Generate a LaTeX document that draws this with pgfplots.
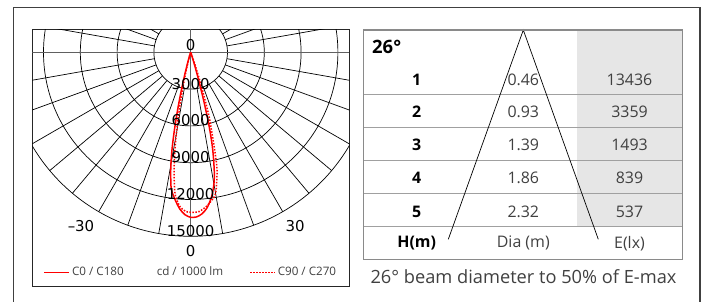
\documentclass[border=0pt]{standalone}
\usepackage{pgfplots}
\pgfplotsset{compat=1.18}
\usepackage{pgfplotstable}
\usepackage{fontspec}
\setmainfont{Open Sans}
\newfontfamily\dejavu{DejaVu Sans}
\definecolor{txt}{HTML}{404040}
\definecolor{tborder}{HTML}{8A8A8A}
\definecolor{rowline}{HTML}{A0A0A0}
\definecolor{colfill}{HTML}{E6E6E6}
\definecolor{axc}{HTML}{606060}

% C180 (negative angles) / C0 (positive angles): angle [deg], intensity [cd/1000 lm]
\pgfplotstableread{
a I
-30 0
-22 30
-20 100
-18 300
-17 550
-16 900
-15 1800
-14 3000
-13 4500
-12 6200
-11 7900
-10 9300
-9 10400
-8 11300
-6 12100
-4 12800
-2 13250
0 13450
2 13430
4 13200
6 12750
8 12000
9 11500
10 10900
11 10100
12 9000
13 7800
14 6200
15 4200
16 2300
17 1000
18 400
20 150
22 50
30 0
}\solidtab

% C270 (negative angles) / C90 (positive angles)
\pgfplotstableread{
a I
-30 0
-20 60
-18 200
-16 600
-14 1500
-13 2400
-12 3600
-11 5100
-10 6700
-9 8300
-8 9700
-7 10900
-6 11800
-4 12600
-2 12950
0 13050
3 13000
6 12600
8 12200
10 11700
12 10300
13 9400
14 7900
15 6500
16 5400
17 3600
18 2200
19 1100
20 500
22 150
30 0
}\dottab

\begin{document}
\begin{tikzpicture}
\path[use as bounding box] (0bp,0bp) rectangle (705bp,302bp);
\draw[black!75, line width=1.2bp] (13.3bp,0bp) -- (13.3bp,294.7bp) -- (700bp,294.7bp) -- (700bp,0bp);

% ---------------- polar diagram ----------------
\begin{axis}[
  at={(32.3bp,16bp)}, anchor=south west,
  scale only axis, width=317bp, height=256.5bp,
  xmin=-12913, xmax=12929, ymin=-19052, ymax=1859,
  xtick=\empty, ytick=\empty,
  axis line style={draw=black!85, line width=1bp},
  clip=true,
  legend columns=3,
  legend style={at={(0.5002,0.0534)}, anchor=center, draw=none, fill=none,
    font=\fontsize{11.7}{13}\selectfont, text=txt,
    /tikz/column 2/.style={column sep=29bp},
    /tikz/column 4/.style={column sep=24bp}},
  legend image code/.code={\draw[#1] (0bp,0bp) -- (25bp,0bp);},
]
% grid circles
\pgfplotsinvokeforeach{36.8,73.6,110.4,147.2,184}{
  \draw[black, line width=0.7bp] (axis cs:0,0) circle[radius=#1bp];
}
\pgfplotsinvokeforeach{10,20,30,40,50,60,70,80,100,110,120,130,140,150,160,170,190,200,210,220,230,240,250,260,280,290,300,310,320,330,340,350}{
  \draw[black, line width=0.7bp] ([shift={(#1:36.8bp)}]axis cs:0,0) -- ([shift={(#1:184bp)}]axis cs:0,0);
}
\draw[axc, line width=1.1bp] (axis cs:-12913,0) -- (axis cs:12929,0);
\draw[axc, line width=1.1bp] (axis cs:0,1859) -- ([shift={(270:184bp)}]axis cs:0,0);

\addplot[red, line width=1.5bp, smooth, tension=0.5] table[
  x expr={\thisrow{I}*sin(\thisrow{a})}, y expr={-\thisrow{I}*cos(\thisrow{a})}] {\solidtab};
\addlegendentry{C0 / C180}
\addlegendimage{empty legend}
\addlegendentry{cd / 1000 lm}
\addplot[red, line width=1.5bp, smooth, tension=0.5, dash pattern=on 1.5bp off 1.5bp] table[
  x expr={\thisrow{I}*sin(\thisrow{a})}, y expr={-\thisrow{I}*cos(\thisrow{a})}] {\dottab};
\addlegendentry{C90 / C270}

\pgfplotsinvokeforeach{3000,6000,9000,12000,15000}{
  \node[font=\dejavu\fontsize{15}{15}\selectfont, anchor=base, inner sep=0pt] at (axis cs:0,-#1) {#1};
}
\node[font=\dejavu\fontsize{15}{15}\selectfont, anchor=base, inner sep=0pt] at (axis cs:0,130) {0};
\node[font=\dejavu\fontsize{15}{15}\selectfont, inner sep=0pt] at (axis cs:-8943,-14160) {–30};
\node[font=\dejavu\fontsize{15}{15}\selectfont, inner sep=0pt] at (axis cs:8503,-14160) {30};
\node[font=\dejavu\fontsize{15}{15}\selectfont, inner sep=0pt] at (axis cs:0,-16174) {0};
\end{axis}

% ---------------- beam table ----------------
\begin{axis}[
  at={(363.3bp,42.7bp)}, anchor=south west,
  scale only axis, width=319bp, height=229.3bp,
  xmin=363.3, xmax=682.3, ymin=30, ymax=259.3, y dir=reverse,
  xtick=\empty, ytick=\empty,
  axis line style={draw=tborder, line width=1.4bp},
  axis on top, clip=false,
]
\fill[colfill] (axis cs:576.7,30) rectangle (axis cs:682.3,226.7);
\pgfplotsinvokeforeach{94.3,127,160.7,193.3,226.7}{
  \draw[rowline, line width=1bp] (axis cs:363.3,#1) -- (axis cs:682.3,#1);
}
\draw[black, line width=0.7bp] (axis cs:448.3,239.3) -- (axis cs:523.3,30) -- (axis cs:598.3,239.3);

\node[font=\bfseries\fontsize{18.5}{19}\selectfont, anchor=west, inner sep=0pt] at (axis cs:372,46.5) {26°};
\node[font=\bfseries\fontsize{16}{16}\selectfont] at (axis cs:416.7,80) {1};
\node[font=\bfseries\fontsize{16}{16}\selectfont] at (axis cs:416.7,111.7) {2};
\node[font=\bfseries\fontsize{16}{16}\selectfont] at (axis cs:416.7,145.2) {3};
\node[font=\bfseries\fontsize{16}{16}\selectfont] at (axis cs:416.7,178.3) {4};
\node[font=\bfseries\fontsize{16}{16}\selectfont] at (axis cs:416.7,211.7) {5};
\node[font=\bfseries\fontsize{16}{16}\selectfont] at (axis cs:416.7,243.3) {H(m)};

\node[font=\fontsize{16}{16}\selectfont, text=txt] at (axis cs:523.3,80) {0.46};
\node[font=\fontsize{16}{16}\selectfont, text=txt] at (axis cs:523.3,111.7) {0.93};
\node[font=\fontsize{16}{16}\selectfont, text=txt] at (axis cs:523.3,145.2) {1.39};
\node[font=\fontsize{16}{16}\selectfont, text=txt] at (axis cs:523.3,178.3) {1.86};
\node[font=\fontsize{16}{16}\selectfont, text=txt] at (axis cs:523.3,211.7) {2.32};
\node[font=\fontsize{16}{16}\selectfont, text=txt] at (axis cs:523.3,243.3) {Dia (m)};

\node[font=\fontsize{16}{16}\selectfont, text=txt] at (axis cs:629.5,80) {13436};
\node[font=\fontsize{16}{16}\selectfont, text=txt] at (axis cs:629.5,111.7) {3359};
\node[font=\fontsize{16}{16}\selectfont, text=txt] at (axis cs:629.5,145.2) {1493};
\node[font=\fontsize{16}{16}\selectfont, text=txt] at (axis cs:629.5,178.3) {839};
\node[font=\fontsize{16}{16}\selectfont, text=txt] at (axis cs:629.5,211.7) {537};
\node[font=\fontsize{16}{16}\selectfont, text=txt] at (axis cs:629.5,243.3) {E(lx)};

\node[font=\fontsize{18.3}{19}\selectfont, text=txt] at (axis cs:523.5,277) {26° beam diameter to 50\% of E-max};
\end{axis}
\end{tikzpicture}
\end{document}
